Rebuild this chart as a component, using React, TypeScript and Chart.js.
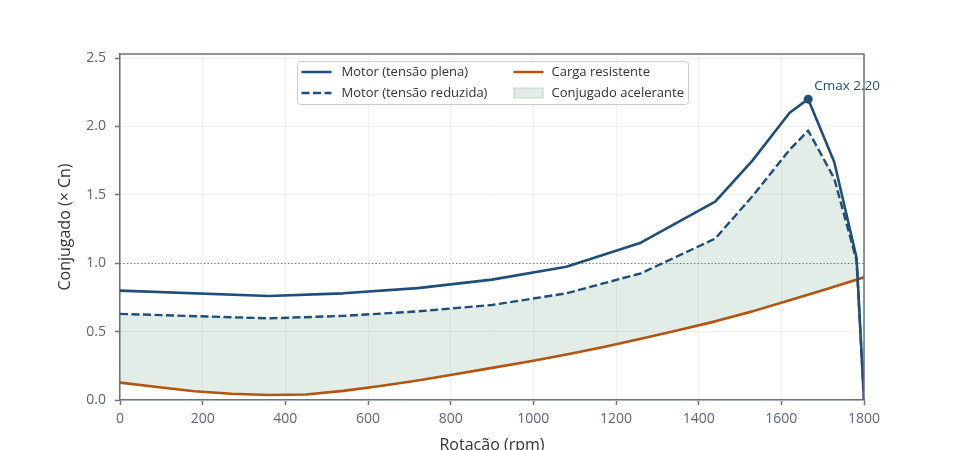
import { useEffect, useRef } from "react";
import { Chart, registerables } from "chart.js";

Chart.register(...registerables);

// Curvas do motor (rpm × conjugado em pu do nominal)
const motorRpm = [0, 360, 540, 720, 900, 1080, 1260, 1440, 1530, 1620, 1665, 1728, 1782, 1800];
const motorFull = [0.8, 0.76, 0.78, 0.818, 0.88, 0.975, 1.15, 1.45, 1.75, 2.1, 2.2, 1.74, 1.04, 0];
const motorReduced = [0.63, 0.597, 0.615, 0.648, 0.695, 0.78, 0.926, 1.18, 1.49, 1.83, 1.97, 1.62, 1.02, 0];

// Curva da carga resistente
const loadRpm = [0, 90, 180, 270, 360, 450, 540, 630, 720, 810, 900, 990, 1080, 1170, 1260, 1350, 1440, 1530, 1620, 1710, 1800];
const loadTorque = [0.127, 0.095, 0.064, 0.046, 0.037, 0.04, 0.067, 0.102, 0.142, 0.188, 0.235, 0.281, 0.332, 0.387, 0.448, 0.51, 0.575, 0.648, 0.73, 0.812, 0.897];

const xTicks = [0, 200, 400, 600, 800, 1000, 1200, 1400, 1600, 1800];
const yTicks = [0, 0.5, 1, 1.5, 2, 2.5];
const nominalTorque = 1.0;

const legendLabels = [
  "Motor (tensão plena)",
  "Motor (tensão reduzida)",
  "Carga resistente",
  "Conjugado acelerante",
];

const family = "'Open Sans', 'DejaVu Sans', sans-serif";
const blue = "#1f4e79";
const orange = "#b5530f";
const fillGreen = "rgba(46, 125, 79, 0.14)";
const axisGray = "#6b7280";
const tickGray = "#5f6672";
const textDark = "#333333";

const peakIndex = motorFull.indexOf(Math.max(...motorFull));
const peakValue = motorFull[peakIndex];

const toPoints = (xs: number[], ys: number[]) => xs.map((x, i) => ({ x, y: ys[i] }));

const decorPlugin = {
  id: "decor",
  beforeDatasetsDraw(chart: any) {
    const { ctx, chartArea: a, scales } = chart;
    const y = Math.round(scales.y.getPixelForValue(nominalTorque)) + 0.5;
    ctx.save();
    ctx.strokeStyle = "#707070";
    ctx.lineWidth = 1;
    ctx.setLineDash([1.2, 2.3]);
    ctx.beginPath();
    ctx.moveTo(a.left, y);
    ctx.lineTo(a.right, y);
    ctx.stroke();
    ctx.restore();
  },
  afterDatasetsDraw(chart: any) {
    const { ctx, scales } = chart;
    const px = scales.x.getPixelForValue(motorRpm[peakIndex]);
    const py = scales.y.getPixelForValue(peakValue);
    ctx.save();
    ctx.fillStyle = blue;
    ctx.font = `13.5px ${family}`;
    ctx.textAlign = "left";
    ctx.textBaseline = "middle";
    ctx.fillText(`Cmax ${peakValue.toFixed(2)}`, px + 6, py - 13);
    ctx.restore();
  },
  afterDraw(chart: any) {
    const { ctx, chartArea: a } = chart;
    ctx.save();
    // top and right spines
    ctx.strokeStyle = axisGray;
    ctx.lineWidth = 1.5;
    ctx.beginPath();
    ctx.moveTo(a.left, a.top);
    ctx.lineTo(a.right, a.top);
    ctx.lineTo(a.right, a.bottom);
    ctx.stroke();

    // legend
    const w = 391;
    const h = 43;
    const x0 = Math.round((a.left + a.right) / 2 - w / 2) + 0.5;
    const y0 = a.top + 7.5;
    ctx.beginPath();
    ctx.roundRect(x0, y0, w, h, 3);
    ctx.fillStyle = "rgba(255,255,255,0.85)";
    ctx.fill();
    ctx.strokeStyle = "#cccccc";
    ctx.lineWidth = 1;
    ctx.stroke();

    const rows = [y0 + 10.5, y0 + 31.5];
    const cols = [x0 + 4, x0 + 216];
    ctx.font = `13px ${family}`;
    ctx.textBaseline = "middle";
    ctx.textAlign = "left";

    const drawLine = (cx: number, cy: number, color: string, dash: number[]) => {
      ctx.save();
      ctx.strokeStyle = color;
      ctx.lineWidth = 2.5;
      ctx.setLineDash(dash);
      ctx.beginPath();
      ctx.moveTo(cx, cy);
      ctx.lineTo(cx + 30, cy);
      ctx.stroke();
      ctx.restore();
    };
    drawLine(cols[0], rows[0], blue, []);
    drawLine(cols[0], rows[1], blue, [8, 3.5]);
    drawLine(cols[1], rows[0], orange, []);
    ctx.fillStyle = fillGreen;
    ctx.fillRect(cols[1], rows[1] - 5, 30, 10);
    ctx.strokeStyle = "rgba(46, 125, 79, 0.22)";
    ctx.lineWidth = 1;
    ctx.strokeRect(cols[1] + 0.5, rows[1] - 5, 29, 10);

    ctx.fillStyle = textDark;
    ctx.fillText(legendLabels[0], cols[0] + 40, rows[0]);
    ctx.fillText(legendLabels[1], cols[0] + 40, rows[1]);
    ctx.fillText(legendLabels[2], cols[1] + 38, rows[0]);
    ctx.fillText(legendLabels[3], cols[1] + 38, rows[1]);
    ctx.restore();
  },
};

export default function App() {
  const ref = useRef<HTMLCanvasElement>(null);

  useEffect(() => {
    if (!ref.current) return;
    const chart = new Chart(ref.current, {
      type: "line",
      data: {
        datasets: [
          {
            label: legendLabels[0],
            data: toPoints(motorRpm, motorFull),
            borderColor: blue,
            backgroundColor: blue,
            borderWidth: 2.6,
            borderJoinStyle: "round",
            pointRadius: (c: any) => (c.dataIndex === peakIndex ? 4.5 : 0),
            pointBackgroundColor: blue,
            pointBorderWidth: 0,
            fill: false,
            tension: 0,
          },
          {
            label: legendLabels[2],
            data: toPoints(loadRpm, loadTorque),
            borderColor: orange,
            borderWidth: 2.6,
            borderJoinStyle: "round",
            pointRadius: 0,
            fill: false,
            tension: 0,
          },
          {
            label: legendLabels[1],
            data: toPoints(motorRpm, motorReduced),
            borderColor: blue,
            borderWidth: 2.4,
            borderDash: [8, 3.5],
            borderJoinStyle: "round",
            pointRadius: 0,
            fill: { target: 1, above: fillGreen, below: "rgba(0,0,0,0)" },
            tension: 0,
          },
        ],
      },
      options: {
        animation: false,
        responsive: false,
        devicePixelRatio: 1,
        events: [],
        layout: { padding: { left: 0, top: 54, right: 96, bottom: 0 } },
        plugins: {
          legend: { display: false },
          tooltip: { enabled: false },
        },
        scales: {
          x: {
            type: "linear",
            min: 0,
            max: 1800,
            afterBuildTicks: (s: any) => {
              s.ticks = xTicks.map((v) => ({ value: v }));
            },
            afterFit: (s: any) => {
              s.height = 50;
            },
            ticks: {
              color: tickGray,
              font: { family, size: 14 },
              padding: 6,
              maxRotation: 0,
              autoSkip: false,
              callback: (v: any) => String(v),
            },
            grid: { color: "#f0f0f0", tickColor: axisGray, tickLength: 5, tickWidth: 1.5, lineWidth: 1 },
            border: { color: axisGray, width: 1.5 },
            title: {
              display: true,
              text: "Rotação (rpm)",
              color: textDark,
              font: { family, size: 16 },
              padding: { top: 0, bottom: -5 },
            },
          },
          y: {
            type: "linear",
            min: 0,
            max: 2.53,
            afterBuildTicks: (s: any) => {
              s.ticks = yTicks.map((v) => ({ value: v }));
            },
            afterFit: (s: any) => {
              s.width = 120;
            },
            ticks: {
              color: tickGray,
              font: { family, size: 14 },
              padding: 9,
              callback: (v: any) => Number(v).toFixed(1),
            },
            grid: { color: "#f0f0f0", tickColor: axisGray, tickLength: 5, tickWidth: 1.5, lineWidth: 1 },
            border: { color: axisGray, width: 1.5 },
            title: {
              display: true,
              text: "Conjugado (× Cn)",
              color: textDark,
              font: { family, size: 16 },
              padding: { top: 56, bottom: 0 },
            },
          },
        },
      },
      plugins: [decorPlugin],
    } as any);
    return () => chart.destroy();
  }, []);

  return (
    <div style={{ position: "absolute", left: 0, top: 0, width: 960, height: 450, background: "#ffffff" }}>
      <canvas ref={ref} width={960} height={450} style={{ display: "block" }} />
    </div>
  );
}
